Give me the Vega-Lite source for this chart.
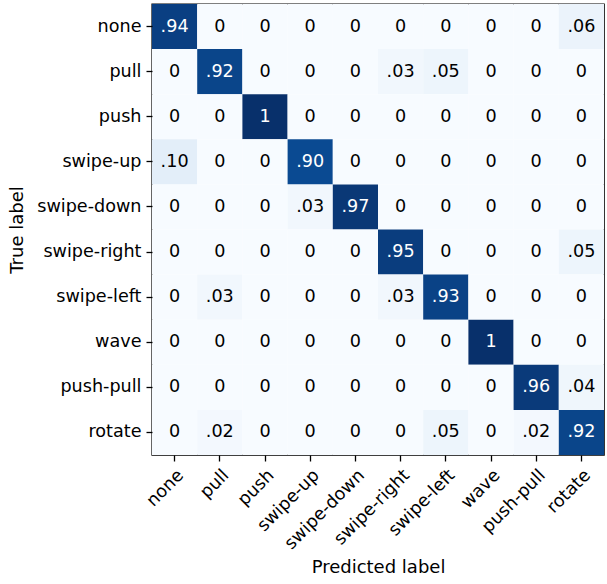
{
  "$schema": "https://vega.github.io/schema/vega-lite/v6.json",
  "autosize": "none",
  "padding": {"left": 152, "top": 4, "right": 2, "bottom": 129},
  "width": 452,
  "height": 451,
  "background": "white",
  "config": {
    "font": "DejaVu Sans",
    "view": {"stroke": "black", "strokeWidth": 1.4},
    "axis": {
      "domain": false,
      "grid": false,
      "ticks": true,
      "tickColor": "black",
      "tickSize": 6,
      "tickWidth": 1.3,
      "labelFont": "DejaVu Sans",
      "labelFontSize": 17.6,
      "labelColor": "black",
      "titleFont": "DejaVu Sans",
      "titleFontSize": 18,
      "titleFontWeight": "normal",
      "titleColor": "black",
      "labelPadding": 5
    }
  },
  "data": {"values": [
    {"t":"none","p":"none","v":0.94,"l":".94"},{"t":"none","p":"pull","v":0,"l":"0"},{"t":"none","p":"push","v":0,"l":"0"},{"t":"none","p":"swipe-up","v":0,"l":"0"},{"t":"none","p":"swipe-down","v":0,"l":"0"},{"t":"none","p":"swipe-right","v":0,"l":"0"},{"t":"none","p":"swipe-left","v":0,"l":"0"},{"t":"none","p":"wave","v":0,"l":"0"},{"t":"none","p":"push-pull","v":0,"l":"0"},{"t":"none","p":"rotate","v":0.06,"l":".06"},
    {"t":"pull","p":"none","v":0,"l":"0"},{"t":"pull","p":"pull","v":0.92,"l":".92"},{"t":"pull","p":"push","v":0,"l":"0"},{"t":"pull","p":"swipe-up","v":0,"l":"0"},{"t":"pull","p":"swipe-down","v":0,"l":"0"},{"t":"pull","p":"swipe-right","v":0.03,"l":".03"},{"t":"pull","p":"swipe-left","v":0.05,"l":".05"},{"t":"pull","p":"wave","v":0,"l":"0"},{"t":"pull","p":"push-pull","v":0,"l":"0"},{"t":"pull","p":"rotate","v":0,"l":"0"},
    {"t":"push","p":"none","v":0,"l":"0"},{"t":"push","p":"pull","v":0,"l":"0"},{"t":"push","p":"push","v":1,"l":"1"},{"t":"push","p":"swipe-up","v":0,"l":"0"},{"t":"push","p":"swipe-down","v":0,"l":"0"},{"t":"push","p":"swipe-right","v":0,"l":"0"},{"t":"push","p":"swipe-left","v":0,"l":"0"},{"t":"push","p":"wave","v":0,"l":"0"},{"t":"push","p":"push-pull","v":0,"l":"0"},{"t":"push","p":"rotate","v":0,"l":"0"},
    {"t":"swipe-up","p":"none","v":0.10,"l":".10"},{"t":"swipe-up","p":"pull","v":0,"l":"0"},{"t":"swipe-up","p":"push","v":0,"l":"0"},{"t":"swipe-up","p":"swipe-up","v":0.90,"l":".90"},{"t":"swipe-up","p":"swipe-down","v":0,"l":"0"},{"t":"swipe-up","p":"swipe-right","v":0,"l":"0"},{"t":"swipe-up","p":"swipe-left","v":0,"l":"0"},{"t":"swipe-up","p":"wave","v":0,"l":"0"},{"t":"swipe-up","p":"push-pull","v":0,"l":"0"},{"t":"swipe-up","p":"rotate","v":0,"l":"0"},
    {"t":"swipe-down","p":"none","v":0,"l":"0"},{"t":"swipe-down","p":"pull","v":0,"l":"0"},{"t":"swipe-down","p":"push","v":0,"l":"0"},{"t":"swipe-down","p":"swipe-up","v":0.03,"l":".03"},{"t":"swipe-down","p":"swipe-down","v":0.97,"l":".97"},{"t":"swipe-down","p":"swipe-right","v":0,"l":"0"},{"t":"swipe-down","p":"swipe-left","v":0,"l":"0"},{"t":"swipe-down","p":"wave","v":0,"l":"0"},{"t":"swipe-down","p":"push-pull","v":0,"l":"0"},{"t":"swipe-down","p":"rotate","v":0,"l":"0"},
    {"t":"swipe-right","p":"none","v":0,"l":"0"},{"t":"swipe-right","p":"pull","v":0,"l":"0"},{"t":"swipe-right","p":"push","v":0,"l":"0"},{"t":"swipe-right","p":"swipe-up","v":0,"l":"0"},{"t":"swipe-right","p":"swipe-down","v":0,"l":"0"},{"t":"swipe-right","p":"swipe-right","v":0.95,"l":".95"},{"t":"swipe-right","p":"swipe-left","v":0,"l":"0"},{"t":"swipe-right","p":"wave","v":0,"l":"0"},{"t":"swipe-right","p":"push-pull","v":0,"l":"0"},{"t":"swipe-right","p":"rotate","v":0.05,"l":".05"},
    {"t":"swipe-left","p":"none","v":0,"l":"0"},{"t":"swipe-left","p":"pull","v":0.03,"l":".03"},{"t":"swipe-left","p":"push","v":0,"l":"0"},{"t":"swipe-left","p":"swipe-up","v":0,"l":"0"},{"t":"swipe-left","p":"swipe-down","v":0,"l":"0"},{"t":"swipe-left","p":"swipe-right","v":0.03,"l":".03"},{"t":"swipe-left","p":"swipe-left","v":0.93,"l":".93"},{"t":"swipe-left","p":"wave","v":0,"l":"0"},{"t":"swipe-left","p":"push-pull","v":0,"l":"0"},{"t":"swipe-left","p":"rotate","v":0,"l":"0"},
    {"t":"wave","p":"none","v":0,"l":"0"},{"t":"wave","p":"pull","v":0,"l":"0"},{"t":"wave","p":"push","v":0,"l":"0"},{"t":"wave","p":"swipe-up","v":0,"l":"0"},{"t":"wave","p":"swipe-down","v":0,"l":"0"},{"t":"wave","p":"swipe-right","v":0,"l":"0"},{"t":"wave","p":"swipe-left","v":0,"l":"0"},{"t":"wave","p":"wave","v":1,"l":"1"},{"t":"wave","p":"push-pull","v":0,"l":"0"},{"t":"wave","p":"rotate","v":0,"l":"0"},
    {"t":"push-pull","p":"none","v":0,"l":"0"},{"t":"push-pull","p":"pull","v":0,"l":"0"},{"t":"push-pull","p":"push","v":0,"l":"0"},{"t":"push-pull","p":"swipe-up","v":0,"l":"0"},{"t":"push-pull","p":"swipe-down","v":0,"l":"0"},{"t":"push-pull","p":"swipe-right","v":0,"l":"0"},{"t":"push-pull","p":"swipe-left","v":0,"l":"0"},{"t":"push-pull","p":"wave","v":0,"l":"0"},{"t":"push-pull","p":"push-pull","v":0.96,"l":".96"},{"t":"push-pull","p":"rotate","v":0.04,"l":".04"},
    {"t":"rotate","p":"none","v":0,"l":"0"},{"t":"rotate","p":"pull","v":0.02,"l":".02"},{"t":"rotate","p":"push","v":0,"l":"0"},{"t":"rotate","p":"swipe-up","v":0,"l":"0"},{"t":"rotate","p":"swipe-down","v":0,"l":"0"},{"t":"rotate","p":"swipe-right","v":0,"l":"0"},{"t":"rotate","p":"swipe-left","v":0.05,"l":".05"},{"t":"rotate","p":"wave","v":0,"l":"0"},{"t":"rotate","p":"push-pull","v":0.02,"l":".02"},{"t":"rotate","p":"rotate","v":0.92,"l":".92"}
  ]},
  "encoding": {
    "x": {"field": "p", "type": "nominal", "sort": null, "title": "Predicted label",
      "scale": {"paddingInner": 0, "paddingOuter": 0},
      "axis": {"labelAngle": -45, "labelAlign": "right", "labelBaseline": "top", "titlePadding": 6}},
    "y": {"field": "t", "type": "nominal", "sort": null, "title": "True label",
      "scale": {"paddingInner": 0, "paddingOuter": 0},
      "axis": {"titlePadding": 10}}
  },
  "layer": [
    {
      "mark": {"type": "rect"},
      "encoding": {
        "color": {"field": "v", "type": "quantitative", "legend": null,
          "scale": {"type": "linear",
            "domain": [0, 0.125, 0.25, 0.375, 0.5, 0.625, 0.75, 0.875, 1],
            "range": ["#f7fbff", "#deebf7", "#c6dbef", "#9ecae1", "#6baed6", "#4292c6", "#2171b5", "#08519c", "#08306b"]}}
      }
    },
    {
      "mark": {"type": "text", "fontSize": 17.6, "font": "DejaVu Sans", "baseline": "middle", "align": "center"},
      "encoding": {
        "text": {"field": "l", "type": "nominal"},
        "color": {"condition": {"test": "datum.v > 0.5", "value": "white"}, "value": "black"}
      }
    }
  ]
}
